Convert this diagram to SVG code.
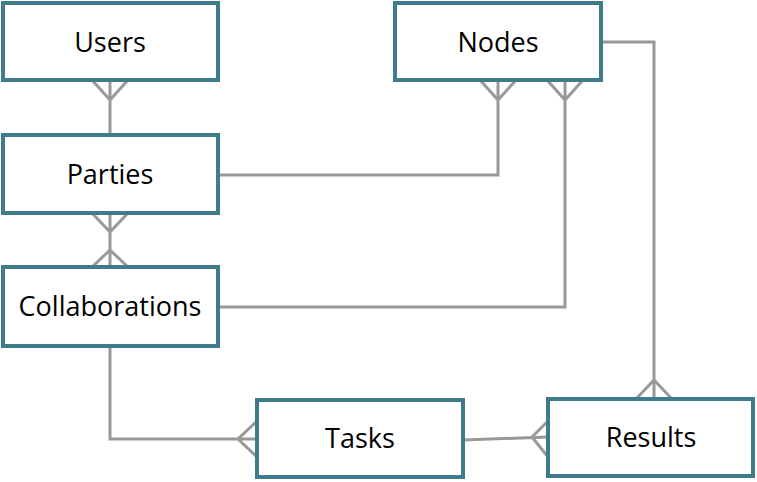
<svg xmlns="http://www.w3.org/2000/svg" width="757" height="482" viewBox="0 0 757 482">
<style>
.box{fill:#fff;stroke:#3E7C8C;stroke-width:4}
.lbl{font-family:"Open Sans","Liberation Sans",sans-serif;font-size:27px;fill:#000;text-anchor:middle}
.c{fill:none;stroke:#999;stroke-width:3}
</style>
<rect width="757" height="482" fill="#fff"/>
<g id="connectors">
<path class="c" d="M110 80V135M92 80L110 100L128 80"/>
<path class="c" d="M217 175H498V80M480 80L498 100L516 80"/>
<path class="c" d="M217 307H565V80M547 80L565 100L583 80"/>
<path class="c" d="M601 42H654V399M636 399L654 380L672 399"/>
<path class="c" d="M110 213V267M92 213L110 232L128 213M92 267L110 250L128 267"/>
<path class="c" d="M110 347V439H257M257 421L238 439L257 457"/>
<path class="c" d="M463 440L548 437M548 421L532 437L548 457"/>
</g>
<g id="users"><rect class="box" x="3" y="3" width="215" height="77"/><text class="lbl" x="110" y="52">Users</text></g>
<g id="nodes"><rect class="box" x="395" y="3" width="206" height="77"/><text class="lbl" x="498" y="52">Nodes</text></g>
<g id="parties"><rect class="box" x="3" y="135" width="215" height="78"/><text class="lbl" x="110" y="184">Parties</text></g>
<g id="collaborations"><rect class="box" x="3" y="267" width="215" height="79"/><text class="lbl" x="110" y="316">Collaborations</text></g>
<g id="tasks"><rect class="box" x="257" y="400" width="206" height="77"/><text class="lbl" x="360" y="448">Tasks</text></g>
<g id="results"><rect class="box" x="548" y="399" width="205" height="77"/><text class="lbl" x="651" y="447">Results</text></g>
</svg>
